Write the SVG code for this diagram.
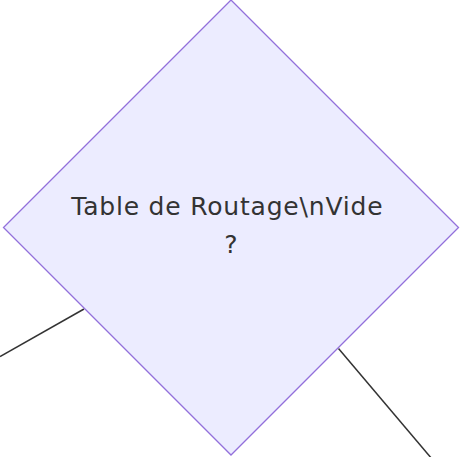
<svg xmlns="http://www.w3.org/2000/svg" width="461" height="457" viewBox="0 0 461 457">
<style>
.edge{fill:none;stroke:#333333;stroke-width:1.5}
.node polygon{fill:#ECECFF;stroke:#9370DB;stroke-width:1.3}
.label{font-family:"DejaVu Sans",Verdana,sans-serif;font-size:25px;letter-spacing:0.8px;fill:#333333;text-anchor:middle}
</style>
<rect width="461" height="457" fill="#ffffff"/>
<g id="connectors">
<path class="edge" d="M0,356.5 L84,309"/>
<path class="edge" d="M338.5,348.5 L432,459"/>
</g>
<g id="node-decision" class="node">
<polygon points="231,0 458.5,227.5 231,455 3.5,227.5"/>
<text class="label" x="227.3" y="215">Table de Routage\nVide</text>
<text class="label" x="231.4" y="253">?</text>
</g>
</svg>
